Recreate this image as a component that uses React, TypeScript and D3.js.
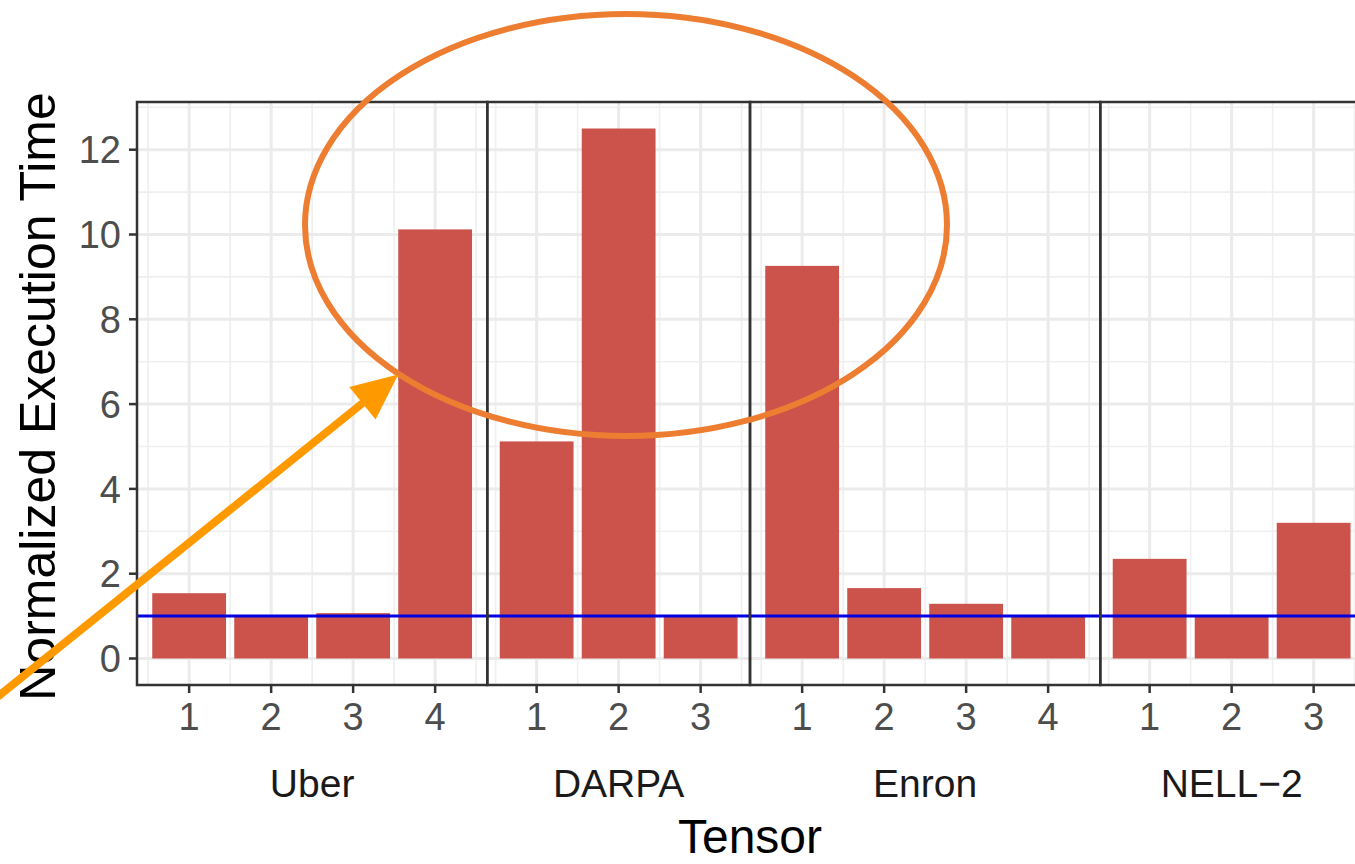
import React, { useEffect, useRef } from 'react';
import * as d3 from 'd3';

// normalized execution time per tensor, one bar per config index
const tensors = ['Uber', 'DARPA', 'Enron', 'NELL\u22122'];
const uberTimes = [1.54, 1.0, 1.07, 10.12];
const darpaTimes = [5.12, 12.5, 1.0];
const enronTimes = [9.26, 1.66, 1.29, 1.0];
const nellTimes = [2.35, 1.0, 3.2];
const yTicks = [0, 2, 4, 6, 8, 10, 12];
const yMinorTicks = [1, 3, 5, 7, 9, 11, 13];
const baselineTime = 1;

const W = 1355;
const H = 864;
const margin = { top: 102, left: 137, bottom: 179, right: -8 };
const step = 82;
const font = '"Liberation Sans", Arial, sans-serif';

const draw = (node: SVGSVGElement) => {
    const svg = d3.select(node);
    svg.selectAll('*').remove();

    const series = [uberTimes, darpaTimes, enronTimes, nellTimes];
    const plotLeft = margin.left;
    const plotRight = W - margin.right;
    const plotTop = margin.top;
    const plotBottom = H - margin.bottom;

    const y = d3.scaleLinear()
        .domain([-0.625, 13.125])
        .range([plotBottom, plotTop]);

    // panels get width proportional to number of bars (space = "free_x")
    const totalBars = d3.sum(series, s => s.length);
    const unitW = (plotRight - plotLeft) / totalBars;
    let cursor = plotLeft;
    const panels = series.map((vals, i) => {
        const w = vals.length * unitW;
        const pad = (w - (vals.length - 1) * step) / 2;
        const x = d3.scaleLinear()
            .domain([1, vals.length])
            .range([cursor + pad, cursor + w - pad]);
        const p = { name: tensors[i], vals, x, x0: cursor, x1: cursor + w };
        cursor += w;
        return p;
    });

    svg.append('rect').attr('width', W).attr('height', H).attr('fill', 'white');

    panels.forEach(p => {
        const g = svg.append('g');
        const n = p.vals.length;
        // minor grid
        g.selectAll('.hmin').data(yMinorTicks).enter().append('line')
            .attr('x1', p.x0).attr('x2', p.x1)
            .attr('y1', d => y(d)).attr('y2', d => y(d))
            .attr('stroke', '#EFEFEF').attr('stroke-width', 1.6);
        const halfs = d3.range(0, n + 1).map(i => i + 0.5);
        g.selectAll('.vmin').data(halfs).enter().append('line')
            .attr('y1', plotTop).attr('y2', plotBottom)
            .attr('x1', d => p.x(d)).attr('x2', d => p.x(d))
            .attr('stroke', '#EFEFEF').attr('stroke-width', 1.6);
        // major grid
        g.selectAll('.hmaj').data(yTicks).enter().append('line')
            .attr('x1', p.x0).attr('x2', p.x1)
            .attr('y1', d => y(d)).attr('y2', d => y(d))
            .attr('stroke', '#EBEBEB').attr('stroke-width', 3);
        g.selectAll('.vmaj').data(d3.range(1, n + 1)).enter().append('line')
            .attr('y1', plotTop).attr('y2', plotBottom)
            .attr('x1', d => p.x(d)).attr('x2', d => p.x(d))
            .attr('stroke', '#EBEBEB').attr('stroke-width', 3);

        // bars
        const bw = step * 0.9;
        g.selectAll('rect.bar').data(p.vals).enter().append('rect')
            .attr('class', 'bar')
            .attr('x', (d, i) => p.x(i + 1) - bw / 2)
            .attr('width', bw)
            .attr('y', d => y(d))
            .attr('height', d => y(0) - y(d))
            .attr('fill', '#CB534B');

        // x ticks + labels
        g.selectAll('.xt').data(d3.range(1, n + 1)).enter().append('line')
            .attr('x1', d => p.x(d)).attr('x2', d => p.x(d))
            .attr('y1', plotBottom).attr('y2', plotBottom + 8)
            .attr('stroke', '#333333').attr('stroke-width', 2.5);
        g.selectAll('.xl').data(d3.range(1, n + 1)).enter().append('text')
            .attr('x', d => p.x(d)).attr('y', 730)
            .attr('text-anchor', 'middle')
            .attr('font-family', font).attr('font-size', 38)
            .attr('fill', '#4D4D4D')
            .text(d => d);

        // strip label below
        g.append('text')
            .attr('x', (p.x0 + p.x1) / 2).attr('y', 797)
            .attr('text-anchor', 'middle')
            .attr('font-family', font).attr('font-size', 39)
            .attr('fill', '#1A1A1A')
            .text(p.name);
    });

    // reference line at 1
    svg.append('line')
        .attr('x1', plotLeft).attr('x2', plotRight)
        .attr('y1', y(baselineTime)).attr('y2', y(baselineTime))
        .attr('stroke', '#0000E0').attr('stroke-width', 3);

    // panel borders
    panels.forEach(p => {
        svg.append('rect')
            .attr('x', p.x0).attr('y', plotTop)
            .attr('width', p.x1 - p.x0).attr('height', plotBottom - plotTop)
            .attr('fill', 'none').attr('stroke', '#333333').attr('stroke-width', 2.5);
    });

    // y axis
    svg.selectAll('.yt').data(yTicks).enter().append('line')
        .attr('x1', plotLeft - 8).attr('x2', plotLeft)
        .attr('y1', d => y(d)).attr('y2', d => y(d))
        .attr('stroke', '#333333').attr('stroke-width', 2.5);
    svg.selectAll('.yl').data(yTicks).enter().append('text')
        .attr('x', 121).attr('y', d => y(d))
        .attr('dy', '0.36em')
        .attr('text-anchor', 'end')
        .attr('font-family', font).attr('font-size', 38)
        .attr('fill', '#4D4D4D')
        .text(d => d);

    // axis titles
    svg.append('text')
        .attr('x', (plotLeft + plotRight) / 2).attr('y', 853)
        .attr('text-anchor', 'middle')
        .attr('font-family', font).attr('font-size', 48)
        .attr('fill', 'black')
        .text('Tensor');
    svg.append('text')
        .attr('transform', `translate(55, ${(plotTop + plotBottom) / 2 + 3}) rotate(-90)`)
        .attr('text-anchor', 'middle')
        .attr('font-family', font).attr('font-size', 50)
        .attr('fill', 'black')
        .text('Normalized Execution Time');

    // annotation: ellipse + arrow pointing at Uber config 4
    svg.append('ellipse')
        .attr('cx', 626).attr('cy', 225)
        .attr('rx', 321).attr('ry', 211)
        .attr('fill', 'none')
        .attr('stroke', '#ED7D31').attr('stroke-width', 6);

    const uber = panels[0];
    const tipX = uber.x(4) - step * 0.45;
    const tipY = y(6.7);
    const sx = -5, sy = 699;
    const ang = Math.atan2(tipY - sy, tipX - sx);
    const headLen = 46, headHalf = 21;
    const bx = tipX - headLen * Math.cos(ang);
    const by = tipY - headLen * Math.sin(ang);
    svg.append('line')
        .attr('x1', sx).attr('y1', sy)
        .attr('x2', bx + 4 * Math.cos(ang)).attr('y2', by + 4 * Math.sin(ang))
        .attr('stroke', '#FF9900').attr('stroke-width', 8);
    const px = -Math.sin(ang), py = Math.cos(ang);
    svg.append('polygon')
        .attr('points', [
            [tipX, tipY],
            [bx + headHalf * px, by + headHalf * py],
            [bx - headHalf * px, by - headHalf * py],
        ].map(pt => pt.join(',')).join(' '))
        .attr('fill', '#FF9900');
};

export default function App() {
    const ref = useRef<SVGSVGElement>(null);
    useEffect(() => {
        if (ref.current) draw(ref.current);
    }, []);
    return (
        <svg ref={ref} width={W} height={H}
            style={{ position: 'absolute', left: 0, top: 0, display: 'block' }} />
    );
}
